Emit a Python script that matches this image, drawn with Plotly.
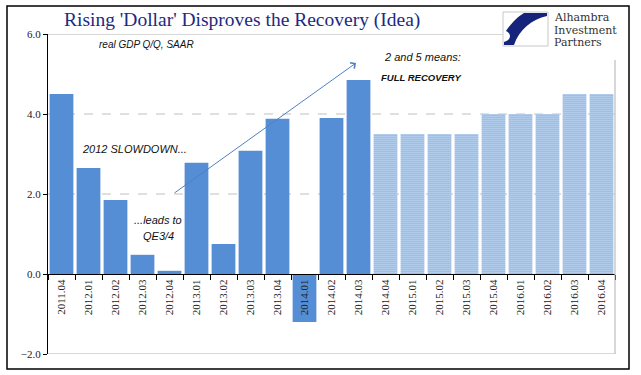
import plotly.graph_objects as go

quarters = ["2011.04", "2012.01", "2012.02", "2012.03", "2012.04", "2013.01", "2013.02",
            "2013.03", "2013.04", "2014.01", "2014.02", "2014.03"]
actual_gdp = [4.5, 2.65, 1.85, 0.48, 0.08, 2.78, 0.75, 3.08, 3.88, -1.2, 3.9, 4.85]

forecast_quarters = ["2014.04", "2015.01", "2015.02", "2015.03", "2015.04", "2016.01",
                     "2016.02", "2016.03", "2016.04"]
forecast_gdp = [3.5, 3.5, 3.5, 3.5, 4.0, 4.0, 4.0, 4.5, 4.5]

y_ticks = [-2, 0, 2, 4, 6]

W, H = 641, 375
L, R, T, B = 48, 615, 34, 354
YMIN, YMAX = -2, 6


def px(x):
    return (x - L) / (R - L)


def py(y):
    return (B - y) / (B - T)


BLUE = "#558ed5"
SERIF = "Liberation Serif"
SANS = "Liberation Sans"

fig = go.Figure()
fig.add_trace(go.Bar(x=quarters, y=actual_gdp, marker=dict(color=BLUE, line=dict(width=0)),
                     showlegend=False))
fig.add_trace(go.Bar(x=forecast_quarters, y=forecast_gdp,
                     marker=dict(color="white", line=dict(width=0),
                                 pattern=dict(shape=".", fgcolor=BLUE, bgcolor="white",
                                              size=2, solidity=0.6, fillmode="replace")),
                     showlegend=False))

all_cats = quarters + forecast_quarters
zero_pos = (0 - YMIN) / (YMAX - YMIN)

fig.update_layout(
    width=W, height=H,
    margin=dict(l=L, r=W - R, t=T, b=H - B),
    paper_bgcolor="white", plot_bgcolor="white",
    bargap=0.12,
    xaxis=dict(type="category", categoryorder="array", categoryarray=all_cats,
               anchor="free", position=zero_pos, showline=True, linecolor="black",
               linewidth=1, ticks="outside", tickson="boundaries", ticklen=5,
               tickcolor="black", tickangle=-90, showgrid=False,
               tickfont=dict(family=SERIF, size=11, color="#222"),
               range=[-0.5, len(all_cats) - 0.5]),
    yaxis=dict(range=[YMIN, YMAX], tickvals=y_ticks, tickformat=".1f", showline=True,
               linecolor="black", linewidth=1, ticks="outside", ticklen=4,
               tickcolor="black", showgrid=False, zeroline=False,
               tickfont=dict(family=SERIF, size=11, color="#222")),
)

shapes = []
for gy in [2, 4]:
    shapes.append(dict(type="line", xref="paper", yref="y", x0=0, x1=1, y0=gy, y1=gy,
                       line=dict(color="#c0c0c0", width=1, dash="dash"), layer="below"))
shapes.append(dict(type="line", xref="paper", yref="y", x0=0, x1=px(503), y0=6, y1=6,
                   line=dict(color="#b0b0b0", width=1)))
shapes.append(dict(type="line", xref="paper", yref="y", x0=0, x1=1, y0=-2, y1=-2,
                   line=dict(color="#b0b0b0", width=1)))
shapes.append(dict(type="line", xref="paper", yref="paper", x0=1, x1=1, y0=0, y1=py(60),
                   line=dict(color="#b0b0b0", width=1)))
shapes.append(dict(type="rect", xref="paper", yref="paper", x0=px(7), x1=px(629),
                   y0=py(369), y1=py(6), line=dict(color="black", width=1.5)))
shapes.append(dict(type="rect", xref="paper", yref="paper", x0=px(503), x1=px(548),
                   y0=py(46), y1=py(12), line=dict(color="#c8c8c8", width=1),
                   fillcolor="white"))


def path(points):
    s = ""
    for cmd, pts in points:
        s += cmd + " " + " ".join(f"{px(a):.5f},{py(b):.5f}" for a, b in pts) + " "
    return s + "Z"


logo_path = path([("M", [(524, 13)]), ("L", [(547, 13)]), ("L", [(547, 16)]),
                  ("C", [(532, 19), (519, 30), (514, 45)]), ("L", [(504, 45)]),
                  ("L", [(504, 42)]), ("C", [(511, 40), (512, 34), (506, 31)]),
                  ("C", [(510, 25), (517, 17), (524, 13)])])
shapes.append(dict(type="path", xref="paper", yref="paper", path=logo_path,
                   fillcolor="#16237a", line=dict(width=0)))
fig.update_layout(shapes=shapes)

ann = []
ann.append(dict(text="Rising 'Dollar' Disproves the Recovery (Idea)", xref="paper",
                yref="paper", x=px(242), y=py(20), xanchor="center", yanchor="middle",
                showarrow=False, font=dict(family=SERIF, size=19.5, color="#1c2a80")))
for txt, yy in [("Alhambra", 18), ("Investment", 30), ("Partners", 42)]:
    ann.append(dict(text=txt, xref="paper", yref="paper", x=px(553), y=py(yy),
                    xanchor="left", yanchor="middle", showarrow=False, borderpad=0,
                    font=dict(family="DejaVu Serif", size=11, color="#333")))


def data_x(pxl):
    return (pxl - L) / ((R - L) / len(all_cats)) - 0.5


def data_y(pyl):
    return YMAX - (pyl - T) / (B - T) * (YMAX - YMIN)


def note(text, x, y, size):
    return dict(text=text, xref="paper", yref="paper", x=px(x), y=py(y),
                xanchor="center", yanchor="middle", showarrow=False,
                font=dict(family=SANS, size=size, color="#111"))


ann.append(note("<i>real GDP Q/Q, SAAR</i>", 146, 44, 10))
ann.append(note("<i>2012 SLOWDOWN...</i>", 134, 149, 11))
ann.append(note("<i>...leads to</i>", 158, 220, 11))
ann.append(note("<i>QE3/4</i>", 158, 236, 11))
ann.append(note("<i>2 and 5 means:</i>", 422, 57, 11))
ann.append(note("<b><i>FULL RECOVERY</i></b>", 422, 77, 9.5))
ann.append(dict(x=data_x(356), y=data_y(63), ax=data_x(173), ay=data_y(194),
                xref="x", yref="y", axref="x", ayref="y", text="", showarrow=True,
                arrowhead=4, arrowsize=1.4, arrowwidth=1, arrowcolor="#4f81bd"))
fig.update_layout(annotations=ann)

fig.write_html("out.html", post_script="document.body.style.margin='0';",
               config={"displayModeBar": False})
